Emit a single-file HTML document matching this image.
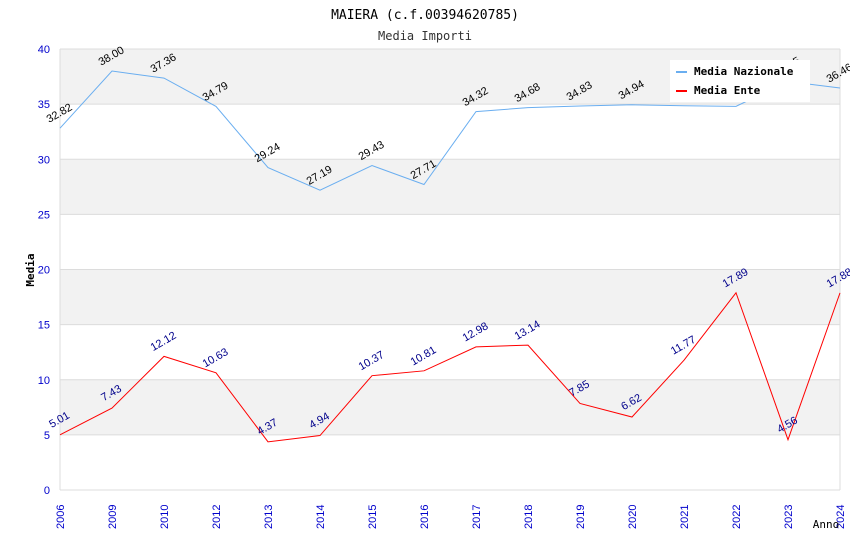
<!DOCTYPE html>
<html><head><meta charset="utf-8"><style>
body{margin:0;background:#fff}
svg{font-family:"DejaVu Sans Mono","Liberation Mono",monospace}
.s{font-family:"Liberation Sans","DejaVu Sans",sans-serif}
</style></head><body>
<svg id="c" width="850" height="550" xmlns="http://www.w3.org/2000/svg">
<text x="425" y="19" text-anchor="middle" font-size="13" fill="#000">MAIERA (c.f.00394620785)</text>
<text x="425" y="40" text-anchor="middle" font-size="12" fill="#333">Media Importi</text>
<g id="bands"></g><g id="axes"></g><g id="series"></g>
<text transform="translate(34,270) rotate(-90)" text-anchor="middle" font-size="11" font-weight="bold" fill="#000">Media</text>
<text x="826" y="528" text-anchor="middle" font-size="11" fill="#000">Anno</text>
<g>
<rect x="670" y="60" width="140" height="42" fill="#fff"/>
<line x1="676" y1="72" x2="687" y2="72" stroke="#6aaef0" stroke-width="2"/>
<text x="694" y="75" font-size="11" font-weight="bold">Media Nazionale</text>
<line x1="676" y1="91" x2="687" y2="91" stroke="#f00" stroke-width="2"/>
<text x="694" y="94" font-size="11" font-weight="bold">Media Ente</text>
</g>
</svg>
<script>
const categories=["2006","2009","2010","2012","2013","2014","2015","2016","2017","2018","2019","2020","2021","2022","2023","2024"];
const nazionale=[32.82,38.00,37.36,34.79,29.24,27.19,29.43,27.71,34.32,34.68,34.83,34.94,34.85,34.8,37.05,36.46];
const ente=[5.01,7.43,12.12,10.63,4.37,4.94,10.37,10.81,12.98,13.14,7.85,6.62,11.77,17.89,4.56,17.88];
const yTicks=[0,5,10,15,20,25,30,35,40];
const NS="http://www.w3.org/2000/svg";
const X0=60,X1=840,Y0=490,Y1=49;
const xs=i=>X0+i*(X1-X0)/(categories.length-1);
const ys=v=>Y0-v*(Y0-Y1)/40;
function mk(t,a,p){const e=document.createElementNS(NS,t);for(const k in a)e.setAttribute(k,a[k]);p.appendChild(e);return e;}
const bands=document.getElementById('bands'),axes=document.getElementById('axes'),series=document.getElementById('series');
for(let i=0;i<yTicks.length-1;i++){
  if(i%2===1){const r=mk('rect',{x:X0,y:ys(yTicks[i+1]),width:X1-X0,height:ys(yTicks[i])-ys(yTicks[i+1]),fill:'#f2f2f2'},bands);
  
  }
}
yTicks.forEach(v=>{
  const l=mk('line',{x1:X0,x2:X1,y1:ys(v),y2:ys(v),stroke:'#dcdcdc'},axes);
  
  
  const t=mk('text',{x:50,y:ys(v)+4,'text-anchor':'end','font-size':11,fill:'#00c',class:'s'},axes);t.textContent=v;
  
  
});
mk('line',{x1:X0,x2:X0,y1:Y1,y2:Y0,stroke:'#dcdcdc'},axes);
mk('line',{x1:X1,x2:X1,y1:Y1,y2:Y0,stroke:'#dcdcdc'},axes);
categories.forEach((c,i)=>{
  const t=mk('text',{transform:`translate(${xs(i)+4},${529}) rotate(-90)`,'font-size':11,fill:'#00c',class:'s'},axes);t.textContent=c;
  
  
});
function draw(vals,color,lblColor,name){
  const p=mk('polyline',{points:vals.map((v,i)=>xs(i)+','+ys(v)).join(' '),fill:'none',stroke:color,'stroke-width':1},series);
  
  
  vals.forEach((v,i)=>{
    const t=mk('text',{transform:`translate(${xs(i)+1},${ys(v)-12}) rotate(-30)`,'text-anchor':'middle','font-size':11,fill:lblColor,class:'s'},series);t.textContent=v.toFixed(2);
    
    
  });
}
draw(nazionale,'#6aaef0','#000','nazionale');
draw(ente,'#f00','#00008b','ente');
</script>
</body></html>
